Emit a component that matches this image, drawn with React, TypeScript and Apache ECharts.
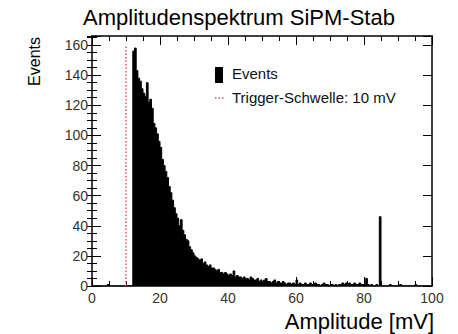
import React, { useEffect, useRef } from "react";
import * as echarts from "echarts";

// Histogram: bins of 0.5 mV starting at 0 mV
const binStart = 0;
const binWidth = 0.5;
const counts: number[] = [
  // 0.0 - 11.5 mV
  0, 0, 0, 0, 0, 0, 0, 0, 0, 1,
  0, 0, 0, 0, 0, 0, 0, 0, 0, 0,
  0, 0, 0, 0,
  // 12.0 - 99.5 mV
  156, 158, 143, 138, 136, 131, 128, 126, 135, 122,
  124, 118, 108, 105, 101, 96, 92, 84, 80, 76,
  72, 66, 62, 57, 52, 48, 45, 40, 44, 37,
  34, 31, 30, 26, 24, 22, 20, 19, 18, 17,
  18, 15, 16, 14, 13, 14, 12, 12, 11, 10,
  11, 9, 9, 8, 9, 8, 7, 8, 7, 10,
  6, 7, 6, 6, 5, 6, 5, 5, 4, 6,
  5, 4, 4, 5, 3, 4, 3, 4, 5, 3,
  3, 2, 3, 4, 2, 3, 2, 2, 3, 2,
  1, 2, 2, 1, 2, 1, 4, 1, 2, 1,
  1, 2, 1, 1, 2, 1, 1, 2, 1, 1,
  0, 1, 2, 1, 1, 0, 1, 1, 0, 1,
  0, 1, 1, 2, 1, 2, 1, 2, 1, 1,
  2, 1, 1, 2, 1, 1, 0, 5, 1, 0,
  1, 0, 0, 1, 0, 46, 0, 0, 0, 0,
  0, 1, 0, 0, 0, 0, 0, 1, 0, 0,
  0, 0, 0, 0, 0, 0, 1, 0, 0, 0,
  0, 0, 0, 0, 0, 0,
];

const triggerThreshold = 10; // mV
const triggerTop = 160;

const xMin = 0;
const xMax = 100;
const xInterval = 20;
const yMin = 0;
const yMax = 166;
const yInterval = 20;
const yMinorInterval = 5;

const titleText = "Amplitudenspektrum SiPM-Stab";
const xTitle = "Amplitude [mV]";
const yTitle = "Events";
const legendHist = "Events";
const legendTrigger = "Trigger-Schwelle: 10 mV";

const FONT = "'Liberation Sans', Arial, Helvetica, sans-serif";

export default function App() {
  const ref = useRef<HTMLDivElement>(null);

  useEffect(() => {
    document.body.style.margin = "0";
    const el = ref.current;
    if (!el) return;
    const chart = echarts.init(el, null, { renderer: "svg" });

    const histData: [number, number][] = counts.map((c, i) => [
      binStart + i * binWidth,
      c,
    ]);
    histData.push([binStart + counts.length * binWidth, 0]);

    const axisLine = { show: true, onZero: false, lineStyle: { color: "#000", width: 1.5 } };
    const labelStyle = { fontFamily: FONT, fontSize: 14, color: "#333" };

    const xBase = {
      type: "value",
      min: xMin,
      max: xMax,
      interval: xInterval,
      axisLine,
      splitLine: { show: false },
      axisTick: { show: true, inside: true, length: 9, lineStyle: { color: "#000", width: 1 } },
      minorTick: { show: true, splitNumber: 4, length: 5, lineStyle: { color: "#000", width: 1 } },
    };

    const yBase = (position: string, interval: number, len: number, showLine: boolean, showLabel: boolean) => ({
      type: "value",
      position,
      min: yMin,
      max: yMax,
      interval,
      axisLine: showLine ? axisLine : { show: false },
      splitLine: { show: false },
      axisTick: { show: true, inside: true, length: len, lineStyle: { color: "#000", width: 1 } },
      axisLabel: showLabel
        ? {
            ...labelStyle,
            margin: 4,
            formatter: (v: number) => (v % yInterval === 0 ? String(v) : ""),
          }
        : { show: false },
    });

    chart.setOption({
      animation: false,
      grid: { left: 92, right: 26, top: 36, bottom: 48, outerBoundsMode: "none" },
      xAxis: [
        { ...xBase, position: "bottom", axisLabel: { ...labelStyle, margin: 5 } },
        { ...xBase, position: "top", axisLabel: { show: false } },
      ],
      yAxis: [
        yBase("left", yInterval, 9, true, true),
        yBase("left", yMinorInterval, 5, false, false),
        yBase("right", yInterval, 9, true, false),
        yBase("right", yMinorInterval, 5, false, false),
      ],
      series: [
        {
          type: "line",
          name: legendHist,
          xAxisIndex: 0,
          yAxisIndex: 0,
          step: "end",
          symbol: "none",
          data: histData,
          lineStyle: { color: "#000", width: 1 },
          areaStyle: { color: "#000", opacity: 1 },
          z: 2,
        },
        {
          type: "line",
          name: legendTrigger,
          xAxisIndex: 0,
          yAxisIndex: 0,
          symbol: "none",
          data: [
            [triggerThreshold, 0],
            [triggerThreshold, triggerTop],
          ],
          lineStyle: { color: "#e0505a", width: 1.5, type: [1.5, 2] },
          z: 3,
        },
      ],
      graphic: [
        {
          type: "text",
          x: 239,
          y: 17,
          style: {
            text: titleText,
            fontFamily: FONT,
            fontSize: 22,
            fill: "#000",
            align: "center",
            verticalAlign: "middle",
          },
        },
        {
          type: "text",
          x: 434,
          y: 321,
          style: {
            text: xTitle,
            fontFamily: FONT,
            fontSize: 22,
            fill: "#000",
            align: "right",
            verticalAlign: "middle",
          },
        },
        {
          type: "text",
          x: 34,
          y: 37,
          rotation: Math.PI / 2,
          style: {
            text: yTitle,
            fontFamily: FONT,
            fontSize: 16,
            fill: "#000",
            align: "right",
            verticalAlign: "middle",
          },
        },
        {
          type: "rect",
          shape: { x: 215, y: 67, width: 8, height: 16 },
          style: { fill: "#000" },
        },
        {
          type: "text",
          x: 232,
          y: 73,
          style: {
            text: legendHist,
            fontFamily: FONT,
            fontSize: 15,
            fill: "#111",
            align: "left",
            verticalAlign: "middle",
          },
        },
        {
          type: "line",
          shape: { x1: 215, y1: 98, x2: 224, y2: 98 },
          style: { stroke: "#e0505a", lineWidth: 1.5, lineDash: [1.5, 2] },
        },
        {
          type: "text",
          x: 232,
          y: 97,
          style: {
            text: legendTrigger,
            fontFamily: FONT,
            fontSize: 15,
            fill: "#111",
            align: "left",
            verticalAlign: "middle",
          },
        },
      ],
    });

    return () => chart.dispose();
  }, []);

  return <div ref={ref} style={{ width: 458, height: 334 }} />;
}
